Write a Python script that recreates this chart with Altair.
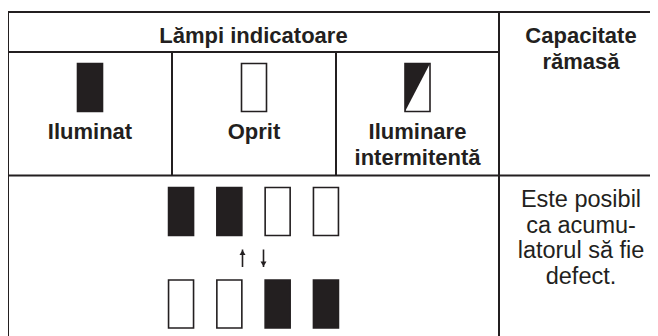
import altair as alt
import pandas as pd

# ---------------- content ----------------
group_title = ["Lămpi indicatoare"]
capacity_title = ["Capacitate", "rămasă"]
lamp_labels = [["Iluminat"], ["Oprit"], ["Iluminare", "intermitentă"]]
lamp_states = ["on", "off", "blink"]
sequence_top = ["on", "on", "off", "off"]
sequence_bottom = ["off", "off", "on", "on"]
arrow_dirs = ["up", "down"]
capacity_text = ["Este posibil", "ca acumu-", "latorul să fie", "defect."]

# ---------------- layout (pixel grid of the figure) ----------------
INK = "#231f20"
FONT = "Liberation Sans"
X_LEFT, X_RIGHT = 8, 650
COL_EDGES = [8, 172, 336, 499]
Y_TOP, Y_SUB, Y_HEAD, Y_BOTTOM = 12, 52, 175.5, 336
CAP_CX = 581
LAMP_W, LAMP_H = 25, 48

segs = [
    (X_LEFT, Y_TOP, X_RIGHT, Y_TOP),
    (X_LEFT, Y_SUB, COL_EDGES[3], Y_SUB),
    (X_LEFT, Y_HEAD, X_RIGHT, Y_HEAD),
    (X_LEFT, Y_TOP, X_LEFT, Y_BOTTOM),
    (COL_EDGES[1], Y_SUB, COL_EDGES[1], Y_HEAD),
    (COL_EDGES[2], Y_SUB, COL_EDGES[2], Y_HEAD),
    (COL_EDGES[3], Y_TOP, COL_EDGES[3], Y_BOTTOM),
]
seg_df = pd.DataFrame(segs, columns=["x", "y", "x2", "y2"])

fills = {"on": INK, "off": "white", "blink": "white"}
lamps = []
tri = []
texts = []
for i, (state, label) in enumerate(zip(lamp_states, lamp_labels)):
    cx = (COL_EDGES[i] + COL_EDGES[i + 1]) / 2
    x0, x1 = cx - LAMP_W / 2, cx + LAMP_W / 2
    y0, y1 = 63.5, 63.5 + LAMP_H
    lamps.append(dict(x=x0, x2=x1, y=y0, y2=y1, fill=fills[state]))
    if state == "blink":
        tri.append(dict(x=x0, y=y0, y2=y1))
        tri.append(dict(x=x1, y=y0, y2=y0))
    for j, line in enumerate(label):
        texts.append(dict(x=cx, y=139 + 26 * j, t=line, w="bold"))

seq_cx = (COL_EDGES[0] + COL_EDGES[3]) / 2
for row, (seq, ytop) in enumerate([(sequence_top, 187.5), (sequence_bottom, 280)]):
    n = len(seq)
    for i, state in enumerate(seq):
        cx = seq_cx + (i - (n - 1) / 2) * 48.3
        lamps.append(dict(x=cx - LAMP_W / 2, x2=cx + LAMP_W / 2,
                          y=ytop, y2=ytop + LAMP_H, fill=fills[state]))
lamp_df = pd.DataFrame(lamps)
tri_df = pd.DataFrame(tri)

texts.append(dict(x=seq_cx, y=43, t=group_title[0], w="bold"))
for j, line in enumerate(capacity_title):
    texts.append(dict(x=CAP_CX, y=43 + 25.5 * j, t=line, w="bold"))
for j, line in enumerate(capacity_text):
    texts.append(dict(x=CAP_CX, y=207 + 25.5 * j, t=line, w="normal"))
text_df = pd.DataFrame(texts)

shafts = []
heads = []
for k, d in enumerate(arrow_dirs):
    ax = seq_cx - 11 + 21 * k
    shafts.append(dict(x=ax, y=249.5, y2=267))
    heads.append(dict(x=ax, y=(252.5 if d == "up" else 264),
                      shape=("triangle-up" if d == "up" else "triangle-down")))
shaft_df = pd.DataFrame(shafts)
head_df = pd.DataFrame(heads)

xs = alt.Scale(domain=[8, 650], nice=False, zero=False)
ys = alt.Scale(domain=[8, 336], nice=False, zero=False, reverse=True)
X = lambda f="x": alt.X(f"{f}:Q", scale=xs, axis=None)
Y = lambda f="y": alt.Y(f"{f}:Q", scale=ys, axis=None)

grid = alt.Chart(seg_df).mark_rule(color=INK, strokeWidth=2).encode(
    x=X(), y=Y(), x2="x2:Q", y2="y2:Q")

lamp_layer = alt.Chart(lamp_df).mark_rect(stroke=INK, strokeWidth=1.6).encode(
    x=X(), x2="x2:Q", y=Y(), y2="y2:Q",
    fill=alt.Fill("fill:N", scale=None))

tri_layer = alt.Chart(tri_df).mark_area(color=INK, opacity=1).encode(
    x=X(), y=Y(), y2="y2:Q")

shaft_layer = alt.Chart(shaft_df).mark_rule(color=INK, strokeWidth=1.6).encode(
    x=X(), y=Y(), y2="y2:Q")

head_layer = alt.Chart(head_df).mark_point(filled=True, color=INK, size=36, opacity=1).encode(
    x=X(), y=Y(), shape=alt.Shape("shape:N", scale=None))

bold_text = alt.Chart(text_df[text_df.w == "bold"]).mark_text(
    font=FONT, fontSize=22, fontWeight="bold", color=INK,
    align="center", baseline="alphabetic").encode(x=X(), y=Y(), text="t:N")

reg_text = alt.Chart(text_df[text_df.w == "normal"]).mark_text(
    font=FONT, fontSize=23.5, fontWeight="normal", color=INK,
    align="center", baseline="alphabetic").encode(x=X(), y=Y(), text="t:N")

chart = alt.layer(grid, lamp_layer, tri_layer, shaft_layer, head_layer, bold_text, reg_text).properties(
    width=642, height=328, autosize=alt.AutoSizeParams(type="none"), padding=0,
    background="white"
).configure_view(stroke=None)

chart.save("out.html", embed_options={"renderer": "svg", "actions": False})
